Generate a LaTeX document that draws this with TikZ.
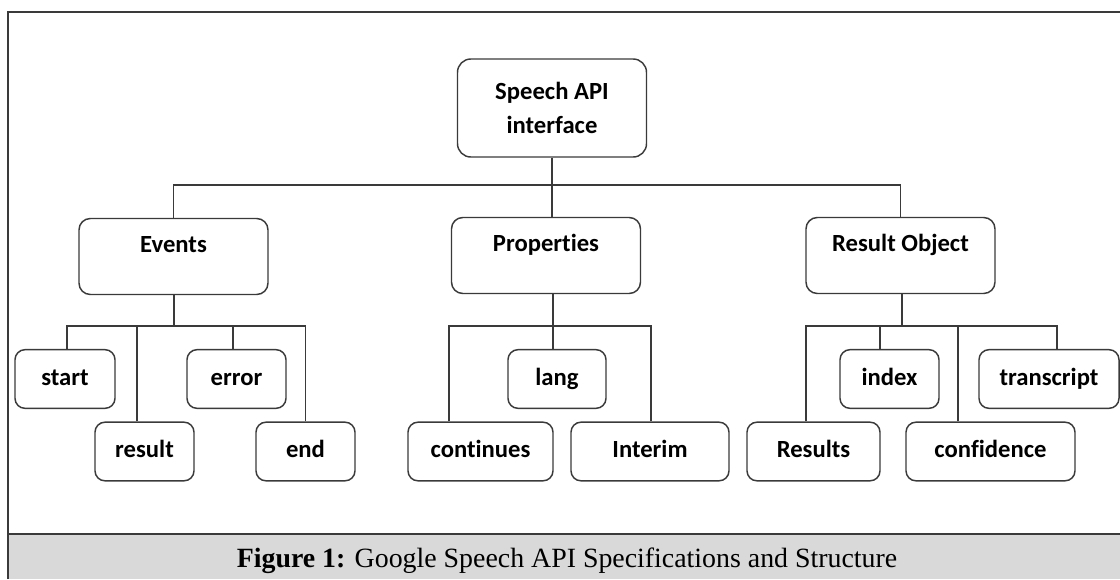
\documentclass[tikz,border=0pt]{standalone}
\usepackage{fontspec}
\setmainfont{Liberation Serif}
\newfontfamily\calibri{Carlito}[Ligatures=NoCommon]
\definecolor{boxline}{HTML}{3A3A3A}
\definecolor{capgray}{HTML}{D9D9D9}

\begin{document}
\begin{tikzpicture}[x=0.75pt,y=-0.75pt,
    box/.style={draw=boxline,line width=1.1pt,rounded corners=7.5pt,inner sep=0pt,align=center,
      font=\calibri\bfseries\fontsize{18.5}{25.5}\selectfont},
    headbox/.style={box,rounded corners=8.5pt,minimum width=141.75pt,minimum height=57pt,
      text height=12pt,text depth=18pt},
    leaf/.style={box,minimum height=44pt,text height=13pt,text depth=4pt},
    link/.style={draw=boxline,line width=1pt}]
    \useasboundingbox (0,0) rectangle (1120,579);
    \fill[capgray] (8,534) rectangle (1120,579);
    \draw[boxline,line width=1.5pt] (8,579) -- (8,12) -- (1120,12);
    \draw[boxline,line width=1.5pt] (8,534) -- (1120,534);

    \node[box,rounded corners=10pt,minimum width=141.75pt,minimum height=73.5pt] (api) at (552,108) {Speech API\\interface};
    \node[headbox] (events) at (173.5,256.5) {Events};
    \node[headbox] (props) at (546,255.5) {Properties};
    \node[headbox] (robj) at (900.5,255.5) {Result Object};

    \node[leaf,minimum width=75pt] (start) at (65,379) {start};
    \node[leaf,minimum width=74.25pt] (result) at (144.5,451.5) {result};
    \node[leaf,minimum width=74.25pt] (error) at (236.5,379) {error};
    \node[leaf,minimum width=74.25pt] (end) at (305.5,451.5) {end};
    \node[leaf,minimum width=73.5pt] (lang) at (557,379) {lang};
    \node[leaf,minimum width=108.75pt] (continues) at (480.5,451.5) {continues};
    \node[leaf,minimum width=118.5pt] (interim) at (650,451.5) {Interim};
    \node[leaf,minimum width=99.75pt] (results) at (813.5,451.5) {Results};
    \node[leaf,minimum width=74.25pt] (index) at (889.5,379) {index};
    \node[leaf,minimum width=126.75pt] (confidence) at (990.5,451.5) {confidence};
    \node[leaf,minimum width=105pt] (transcript) at (1049,379) {transcript};

    \coordinate (top) at (552,185);
    \coordinate (bevents) at (174,326);
    \coordinate (bprops) at (553,326);
    \coordinate (brobj) at (902,326);
    \draw[link] (api) -- (api |- props.north);
    \draw[link] (events) |- (top) -| (robj);
    \foreach \n in {events,props,robj}
      \draw[link] (\n.south -| b\n) -- (b\n);
    \foreach \c/\p/\dx in {start/events/2,result/events/-7.5,error/events/-3.5,end/events/0,
        continues/props/-31.5,lang/props/-4,interim/props/1,
        results/robj/-7.5,index/robj/-9.5,confidence/robj/-32.5,transcript/robj/8}
      \draw[link] ([shift={(\dx,0)}]\c.north) |- (b\p);

    \node[font=\fontsize{20.9}{24}\selectfont,anchor=base] (caption) at (567,567)
      {\textbf{Figure 1:} Google Speech API Specifications and Structure};
\end{tikzpicture}
\end{document}
